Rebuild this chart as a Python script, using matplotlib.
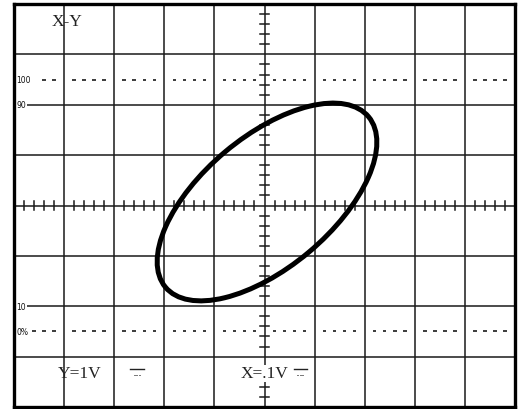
import numpy as np
import matplotlib
matplotlib.use("Agg")
import matplotlib.pyplot as plt
from matplotlib.patches import Ellipse

# ---- data (in screen divisions) ----
x_divisions = 10
y_divisions = 8
subdiv = 5
ellipse_center = (0.05, 0.07)
ellipse_width = 5.28      # major axis length (div)
ellipse_height = 2.60     # minor axis length (div)
ellipse_angle = 39.8      # degrees
level_labels = ["100", "90", "10", "0%"]
level_values = [2.5, 2.0, -2.0, -2.5]
title_text = "X-Y"
y_scale_text = "Y=1V"
x_scale_text = "X=.1V"

fig = plt.figure(figsize=(5.2, 4.1), dpi=100)
ax = fig.add_axes([14 / 520, 2 / 410, 501 / 520, 403 / 410])
xh, yh = x_divisions / 2, y_divisions / 2
ax.set_xlim(-xh, xh)
ax.set_ylim(-yh, yh)
ax.set_xticks([])
ax.set_yticks([])
for s in ax.spines.values():
    s.set_linewidth(2.4)
    s.set_color("black")

gc = "#1a1a1a"
glw = 1.1
# grid
for gx in range(-int(xh) + 1, int(xh)):
    ax.axvline(gx, color=gc, lw=glw, zorder=1)
for gy in range(-int(yh) + 1, int(yh)):
    ax.axhline(gy, color=gc, lw=glw, zorder=1)

# center ticks
step = 1 / subdiv
xt = np.round(np.arange(-xh, xh + 1e-9, step), 3)
for t in xt:
    if abs(t - round(t)) > 1e-6:
        ax.plot([t, t], [-0.08, 0.08], color=gc, lw=glw, zorder=1)
yt = np.round(np.arange(-yh, yh + 1e-9, step), 3)
for t in yt:
    if abs(t - round(t)) > 1e-6:
        ax.plot([-0.09, 0.09], [t, t], color=gc, lw=glw, zorder=1)

# dotted 0% / 100% lines
dash = 0.035
for lvl, skip_until in [(2.5, -4.5), (-2.5, -4.7)]:
    for t in xt:
        if abs(t - round(t)) > 1e-6 and t > skip_until:
            ax.plot([t - dash, t + dash], [lvl, lvl], color=gc, lw=1.2,
                    solid_capstyle="butt", zorder=1)

# level labels
for lab, v in zip(level_labels, level_values):
    ax.text(-4.95, v, lab, fontsize=5.5, family="DejaVu Sans", ha="left",
            va="center", color="#111",
            bbox=dict(facecolor="white", edgecolor="none", pad=0.3), zorder=2)

# trace
ell = Ellipse(ellipse_center, ellipse_width, ellipse_height, angle=ellipse_angle,
              fill=False, edgecolor="black", lw=3.6, zorder=3)
ax.add_patch(ell)

# texts
serif = "Liberation Serif"
ax.text(-3.94, 3.67, title_text, fontsize=12.5, family=serif, ha="center",
        va="center", color="#222", zorder=4)
ax.text(-3.70, -3.33, y_scale_text, fontsize=12.5, family=serif, ha="center",
        va="center", color="#222", zorder=4)
ax.text(0.0, -3.33, x_scale_text, fontsize=12.5, family=serif, ha="center",
        va="center", color="#222", zorder=4,
        bbox=dict(facecolor="white", edgecolor="none", pad=0.5))

# DC symbols
for sx in [-2.68, 0.58]:
    ax.plot([sx, sx + 0.27], [-3.24, -3.24], color="#222", lw=1.0, zorder=4)
    for k in range(3):
        d0 = sx + 0.07 + k * 0.05
        ax.plot([d0, d0 + 0.025], [-3.36, -3.36], color="#777", lw=0.7, zorder=4)

fig.savefig("out.png", dpi=100)
